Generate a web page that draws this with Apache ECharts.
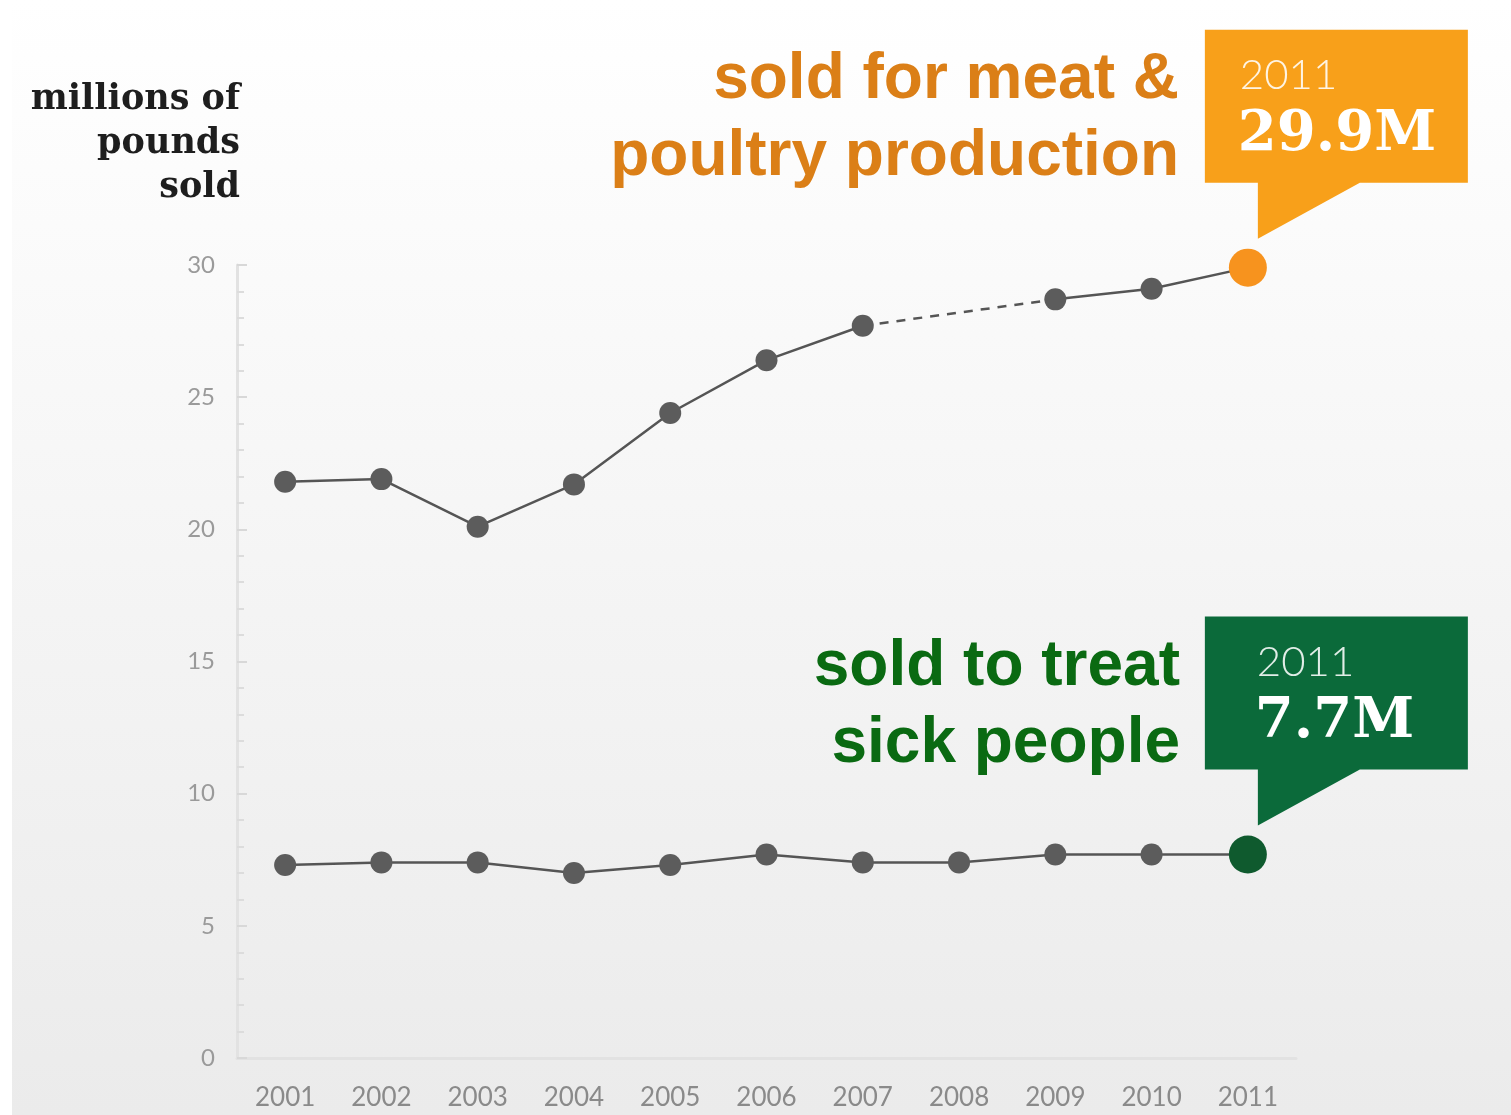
<!DOCTYPE html>
<html>
<head>
<meta charset="utf-8">
<script src="https://cdn.jsdelivr.net/npm/echarts@6/dist/echarts.min.js"></script>
<style>
  html, body { margin: 0; padding: 0; background: #ffffff; }
  #chart { width: 1511px; height: 1115px; }
</style>
</head>
<body>
<div id="chart"></div>
<script>
// ---- data ----
var years = ['2001','2002','2003','2004','2005','2006','2007','2008','2009','2010','2011'];
var meatPoultry = [21.8, 21.9, 20.1, 21.7, 24.4, 26.4, 27.7, null, 28.7, 29.1, 29.9];
var humanMedicine = [7.3, 7.4, 7.4, 7.0, 7.3, 7.7, 7.4, 7.4, 7.7, 7.7, 7.7];
var yTicks = [0, 5, 10, 15, 20, 25, 30];
var axisTitleLines = ['millions of', 'pounds', 'sold'];
var meatLabelLines = ['sold for meat &', 'poultry production'];
var humanLabelLines = ['sold to treat', 'sick people'];
var meatCallout = { year: '2011', value: '29.9M' };
var humanCallout = { year: '2011', value: '7.7M' };

// dashed bridge across missing years
var bridge = meatPoultry.map(function (v, i) {
  if (v !== null) {
    var nextNull = meatPoultry[i + 1] === null;
    var prevNull = meatPoultry[i - 1] === null;
    return (nextNull || prevNull) ? v : null;
  }
  return null;
});

var ORANGE_DOT = '#F7931E';
var GREEN_DOT = '#0F5A2E';
var ORANGE_BOX = '#F8A01A';
var GREEN_BOX = '#0B6A3A';

function withLast(arr, color, size) {
  return arr.map(function (v, i) {
    if (i === arr.length - 1) {
      return { value: v, symbolSize: size, itemStyle: { color: color } };
    }
    return v;
  });
}

var chart = echarts.init(document.getElementById('chart'), null, { renderer: 'canvas' });

var option = {
  backgroundColor: {
    type: 'linear', x: 0, y: 0, x2: 0, y2: 1,
    colorStops: [
      { offset: 0, color: '#ffffff' },
      { offset: 0.35, color: '#f8f8f8' },
      { offset: 1, color: '#ebebeb' }
    ]
  },
  animation: false,
  grid: { left: 237, right: 215, top: 265, bottom: 57 },
  xAxis: {
    type: 'category',
    data: years,
    boundaryGap: true,
    axisLine: { show: true, lineStyle: { color: '#e2e2e2', width: 3 } },
    axisTick: { show: false },
    axisLabel: { color: '#8a8a8a', fontSize: 26, fontFamily: 'Lato', margin: 27 },
    splitLine: { show: false }
  },
  yAxis: {
    type: 'value',
    min: 0, max: 30, interval: 5,
    axisLine: { show: true, lineStyle: { color: '#e2e2e2', width: 3 } },
    axisTick: { show: true, inside: true, length: 10, lineStyle: { color: '#d8d8d8', width: 2 } },
    minorTick: { show: true, splitNumber: 5, length: 7, lineStyle: { color: '#dcdcdc', width: 2 } },
    axisLabel: {
      color: '#9a9a9a', fontSize: 24, fontFamily: 'Lato', margin: 22,
      formatter: function (v) { return yTicks.indexOf(v) >= 0 ? String(v) : ''; }
    },
    splitLine: { show: false }
  },
  series: [
    {
      type: 'line',
      data: withLast(meatPoultry, ORANGE_DOT, 38),
      connectNulls: false,
      symbol: 'circle', symbolSize: 22,
      itemStyle: { color: '#5c5c5c' },
      lineStyle: { color: '#555555', width: 2.5 },
      z: 3
    },
    {
      type: 'line',
      data: bridge,
      connectNulls: true,
      symbol: 'none',
      lineStyle: { color: '#555555', width: 2.5, type: [9, 8] },
      z: 2
    },
    {
      type: 'line',
      data: withLast(humanMedicine, GREEN_DOT, 38),
      symbol: 'circle', symbolSize: 22,
      itemStyle: { color: '#5c5c5c' },
      lineStyle: { color: '#555555', width: 2.5 },
      z: 3
    }
  ]
};

chart.setOption(option);

function callout(pt, color, info, textIndent) {
  var left = pt[0] - 43, right = pt[0] + 220;
  var top = pt[1] - 238, bottom = pt[1] - 85;
  var tipX = pt[0] + 10, tipY = pt[1] - 29;
  return [
    {
      type: 'polygon', z: 10,
      shape: { points: [[left, top], [right, top], [right, bottom], [tipX + 102, bottom], [tipX, tipY], [tipX, bottom], [left, bottom]] },
      style: { fill: color }
    },
    {
      type: 'text', z: 11,
      x: left + textIndent, y: top + 46,
      style: { text: info.year, fill: 'rgba(255,255,255,0.88)', font: '300 42px Lato', verticalAlign: 'middle', align: 'left' }
    },
    {
      type: 'text', z: 11,
      x: left + textIndent - 2, y: top + 106,
      style: { text: info.value, fill: '#ffffff', font: 'bold 56px "DejaVu Serif"', verticalAlign: 'middle', align: 'left' }
    }
  ];
}

var last = years.length - 1;
var pMeat = chart.convertToPixel({ seriesIndex: 0 }, [last, meatPoultry[last]]);
var pHuman = chart.convertToPixel({ seriesIndex: 2 }, [last, humanMedicine[last]]);

var graphics = [
  { type: 'rect', z: -1, shape: { x: 0, y: 0, width: 12, height: 1115 }, style: { fill: '#ffffff' } }
];

axisTitleLines.forEach(function (t, i) {
  graphics.push({
    type: 'text', z: 5, x: 240, y: 100 + i * 44,
    style: { text: t, fill: '#1e1e1e', font: 'bold 35px "DejaVu Serif"', align: 'right', verticalAlign: 'middle' }
  });
});
meatLabelLines.forEach(function (t, i) {
  graphics.push({
    type: 'text', z: 5, x: 1179, y: 80 + i * 77,
    style: { text: t, fill: '#DB7F17', font: 'bold 64px "Liberation Sans"', align: 'right', verticalAlign: 'middle' }
  });
});
humanLabelLines.forEach(function (t, i) {
  graphics.push({
    type: 'text', z: 5, x: 1180, y: 667 + i * 77,
    style: { text: t, fill: '#0A6A12', font: 'bold 64px "Liberation Sans"', align: 'right', verticalAlign: 'middle' }
  });
});

graphics = graphics.concat(callout(pMeat, ORANGE_BOX, meatCallout, 35));
graphics = graphics.concat(callout(pHuman, GREEN_BOX, humanCallout, 52));

chart.setOption({ graphic: graphics });
</script>
</body>
</html>
